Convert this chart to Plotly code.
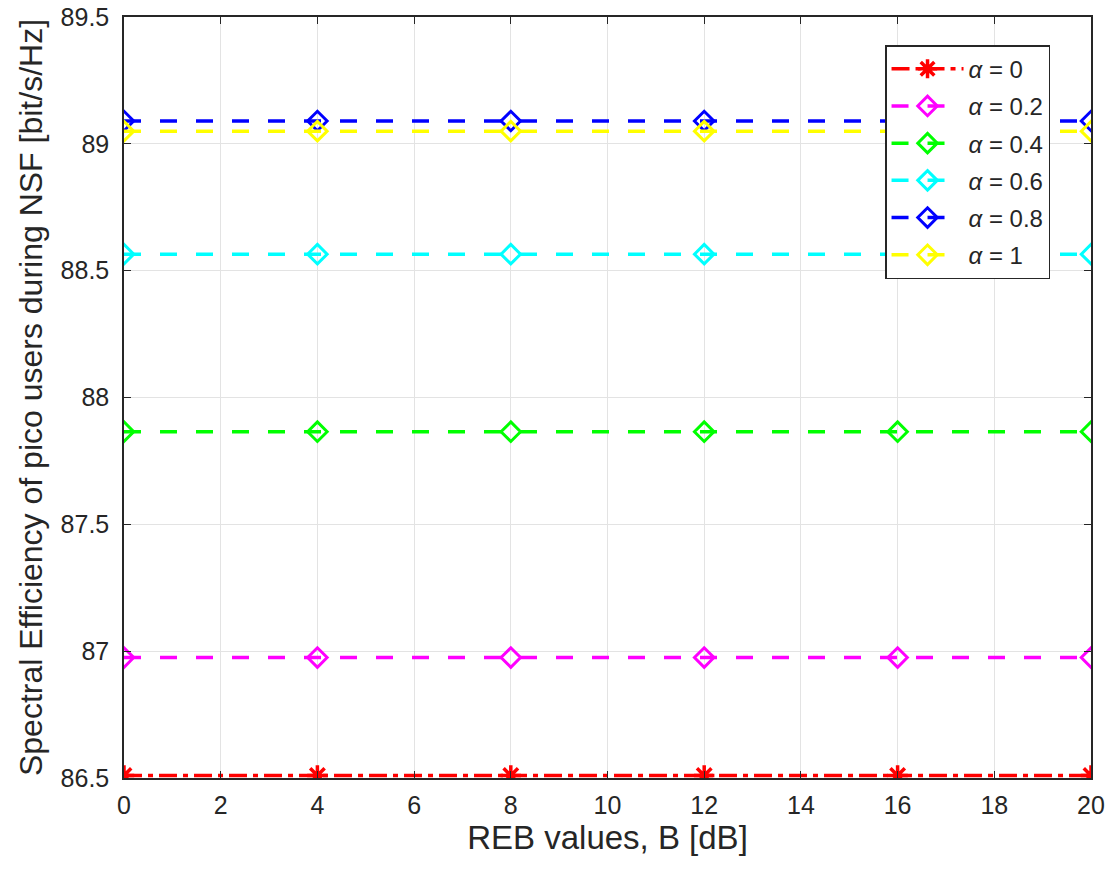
import plotly.graph_objects as go

x_vals = [0, 4, 8, 12, 16, 20]
alphas = ["0", "0.2", "0.4", "0.6", "0.8", "1"]
se_a0 = [86.51] * 6
se_a02 = [86.975] * 6
se_a04 = [87.865] * 6
se_a06 = [88.565] * 6
se_a08 = [89.09] * 6
se_a1 = [89.05] * 6

y_tickvals = [86.5, 87, 87.5, 88, 88.5, 89, 89.5]
y_ticktext = ["86.5", "87", "87.5", "88", "88.5", "89", "89.5"]

series = [se_a0, se_a02, se_a04, se_a06, se_a08, se_a1]
colors = ["#FF0000", "#FF00FF", "#00FF00", "#00FFFF", "#0000FF", "#FFFF00"]
symbols = ["asterisk-open", "diamond-open", "diamond-open", "diamond-open", "diamond-open", "diamond-open"]
msizes = [17, 15, 15, 15, 15, 15]
dashes = ["18px,6px,5px,6px", "17px,19px", "17px,19px", "17px,19px", "17px,19px", "17px,19px"]

FONT = "Liberation Sans, Arial, Helvetica"
TXT = "#262626"

fig = go.Figure()
for i, (a, ys, c, s, ms, d) in enumerate(zip(alphas, series, colors, symbols, msizes, dashes)):
    fig.add_trace(go.Scatter(
        x=x_vals, y=ys, mode="lines+markers",
        name=f"<i>α</i> = {a}",
        legendgroup=f"g{i}",
        line=dict(color=c, width=3.5, dash=d),
        marker=dict(symbol=s, size=ms, color=c, line=dict(color=c, width=3.5 if i == 0 else 3)),
    ))

axis_common = dict(
    showgrid=True, gridcolor="#E3E3E3", gridwidth=1,
    showline=True, linecolor=TXT, linewidth=1.5, mirror="ticks",
    ticks="inside", ticklen=7, tickcolor=TXT, tickwidth=1.2,
    tickfont=dict(family=FONT, size=25, color=TXT),
    zeroline=False, automargin=False,
)

fig.update_layout(
    width=1112, height=880,
    margin=dict(l=124, r=21, t=17, b=102),
    plot_bgcolor="white", paper_bgcolor="white",
    xaxis=dict(range=[0, 20], dtick=2, tick0=0, ticklabelstandoff=4,
               title=dict(text="REB values, B [dB]", font=dict(family=FONT, size=33, color=TXT), standoff=8),
               **axis_common),
    yaxis=dict(range=[86.5, 89.5], tickvals=y_tickvals, ticktext=y_ticktext, ticklabelstandoff=8,
               title=dict(text="Spectral Efficiency of pico users during NSF [bit/s/Hz]", font=dict(family=FONT, size=32, color=TXT), standoff=8),
               **axis_common),
    legend=dict(x=0.787, y=0.963, xanchor="left", yanchor="top",
                bgcolor="white", bordercolor=TXT, borderwidth=1.5,
                font=dict(family=FONT, size=24, color=TXT),
                tracegroupgap=3, itemwidth=72),
    showlegend=True,
)

fig.write_html("out.html")
